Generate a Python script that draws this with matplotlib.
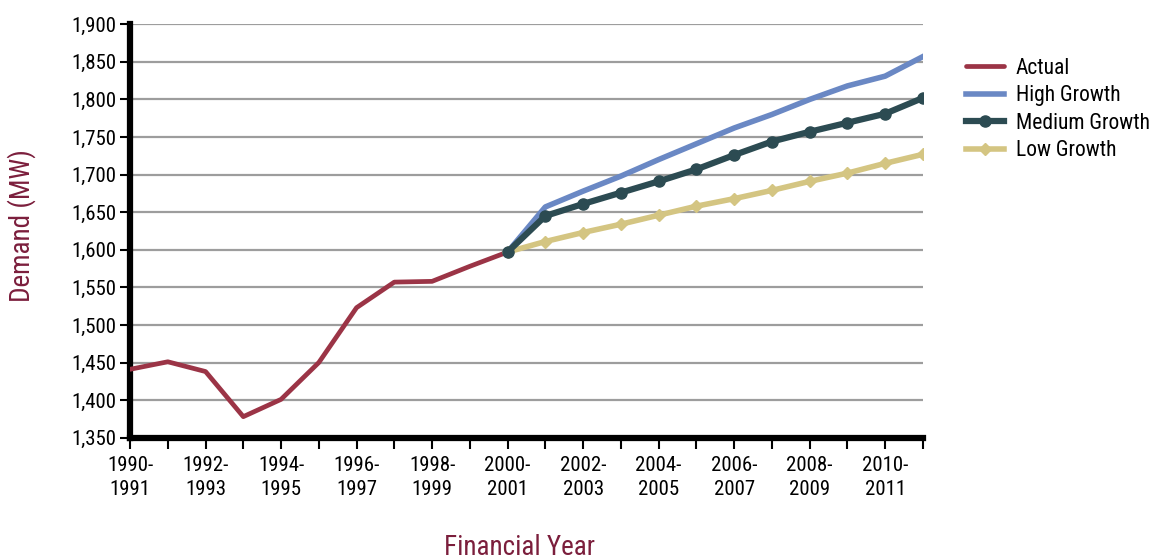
import matplotlib
matplotlib.use("Agg")
import matplotlib.pyplot as plt
from matplotlib.ticker import FuncFormatter
from matplotlib import font_manager

years = [f"{y}-{y+1}" for y in range(1990, 2012)]
actual = [1441, 1451, 1438, 1378, 1401, 1450, 1523, 1557, 1558, 1578, 1597]
high = [1597, 1657, 1678, 1698, 1720, 1741, 1762, 1780, 1800, 1818, 1831, 1857]
medium = [1597, 1645, 1661, 1676, 1691, 1707, 1726, 1744, 1757, 1769, 1781, 1802]
low = [1597, 1611, 1623, 1634, 1646, 1658, 1668, 1679, 1691, 1702, 1715, 1727]
tick_labels = [f"{y}-\n{y+1}" for y in range(1990, 2012, 2)]
yticks = list(range(1350, 1901, 50))

# pick a condensed font if one is installed
names = {f.name for f in font_manager.fontManager.ttflist}
stretch = 'normal'
family = 'DejaVu Sans'
for cand in ['Liberation Sans Narrow', 'Roboto Condensed', 'Open Sans Condensed',
             'Noto Sans Condensed', 'DejaVu Sans Condensed']:
    if cand in names:
        family = cand
        break
else:
    cond = [f for f in font_manager.fontManager.ttflist
            if f.stretch in ('condensed', 'semi-condensed', 'extra-condensed', 'narrow')
            or (isinstance(f.stretch, int) and f.stretch < 500)]
    if cond:
        family = cond[0].name
        stretch = cond[0].stretch

plt.rcParams['font.family'] = [family, 'DejaVu Sans']
plt.rcParams['font.stretch'] = stretch

fig = plt.figure(figsize=(11.55, 5.6), dpi=100)
ax = fig.add_axes([0.1126, 0.2184, 0.799 - 0.1126, 0.9566 - 0.2184])

xa = list(range(len(actual)))
xf = list(range(len(actual) - 1, len(actual) - 1 + len(high)))

grid_c = '#9d9d9d'
for y in yticks[1:]:
    ax.axhline(y, color=grid_c, lw=1.6, zorder=1)

ax.plot(xa, actual, color='#9b3446', lw=3.4, solid_joinstyle='round',
        solid_capstyle='round', label='Actual', zorder=3)
ax.plot(xf, high, color='#6a88c4', lw=4.0, solid_joinstyle='round',
        label='High Growth', zorder=3)
ax.plot(xf, low, color='#d4c582', lw=4, marker='D', ms=6,
        label='Low Growth', zorder=3)
ax.plot(xf, medium, color='#2c4b52', lw=4.5, marker='o', ms=8,
        label='Medium Growth', zorder=4)

ax.set_xlim(0, 21)
ax.set_ylim(1350, 1900)
ax.set_yticks(yticks)
ax.yaxis.set_major_formatter(FuncFormatter(lambda v, p: f"{int(v):,}"))
ax.set_xticks(range(len(years)))
ax.set_xticklabels([tick_labels[i // 2] if i % 2 == 0 else '' for i in range(len(years))],
                   linespacing=1.35)

for s in ['top', 'right']:
    ax.spines[s].set_visible(False)
for s in ['left', 'bottom']:
    ax.spines[s].set_linewidth(4.5)
    ax.spines[s].set_color('black')
ax.spines['bottom'].set_zorder(5)

ax.tick_params(axis='y', length=7, width=1.5, pad=3, labelsize=15, color='black')
ax.tick_params(axis='x', length=8, width=1.5, pad=5, labelsize=15, color='black')

handles, labels = ax.get_legend_handles_labels()
order = [0, 1, 3, 2]
fig.legend([handles[i] for i in order], [labels[i] for i in order],
           loc='upper left', bbox_to_anchor=(0.829, 0.912), frameon=False,
           fontsize=15.5, handlelength=1.75, handletextpad=0.55, labelspacing=0.3,
           borderaxespad=0)

fig.text(0.019, 0.598, 'Demand (MW)', rotation=90, va='center', ha='center',
         fontsize=19.5, color='#7b1e3c')
fig.text(0.45, 0.023, 'Financial Year', va='center', ha='center',
         fontsize=19.5, color='#7b1e3c')

fig.savefig('out.png', dpi=100)
